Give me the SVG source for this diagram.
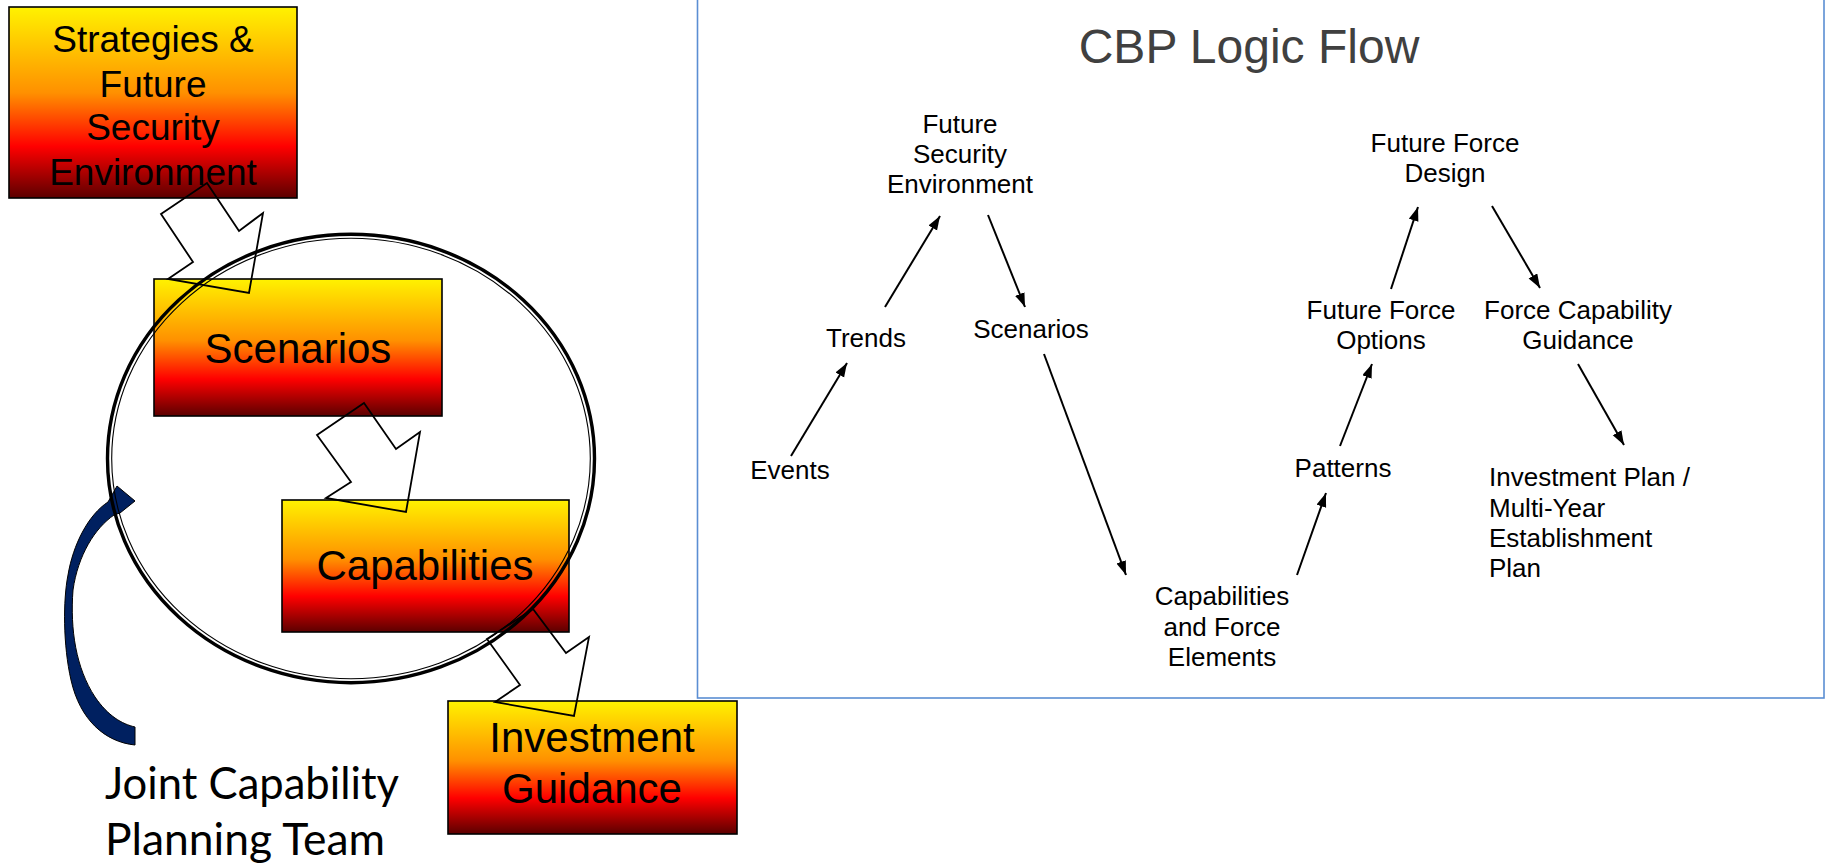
<svg xmlns="http://www.w3.org/2000/svg" width="1829" height="868" viewBox="0 0 1829 868">
<defs>
<linearGradient id="fire" x1="0" y1="0" x2="0" y2="1">
<stop offset="0" stop-color="#FFF200"/>
<stop offset="0.45" stop-color="#FF9000"/>
<stop offset="0.73" stop-color="#FF0000"/>
<stop offset="1" stop-color="#5C0000"/>
</linearGradient>
<marker id="ah" markerUnits="userSpaceOnUse" markerWidth="15" markerHeight="11" refX="14" refY="5" orient="auto">
<path d="M0,0 L14,5 L0,10 Z" fill="#000"/>
</marker>
<style>
.box{fill:url(#fire);stroke:#000;stroke-width:1.6}
.bt{font-family:"Liberation Sans",Arial,sans-serif;font-size:42px;fill:#000;text-anchor:middle}
.zz{fill:none;stroke:#000;stroke-width:1.8;stroke-linejoin:miter}
.lbl{font-family:"Liberation Sans",Arial,sans-serif;font-size:26px;fill:#000;text-anchor:middle}
.lbl-l{font-family:"Liberation Sans",Arial,sans-serif;font-size:26px;fill:#000}
.fl{stroke:#000;stroke-width:2;fill:none;marker-end:url(#ah)}
</style>
</defs>
<rect width="1829" height="868" fill="#fff"/>

<!-- Right panel -->
<rect id="panel" x="697.5" y="-3" width="1126.5" height="701" fill="none" stroke="#5B8ED3" stroke-width="1.6"/>
<text id="title" x="1249" y="63" font-family="Liberation Sans, Arial, sans-serif" font-size="48" fill="#404040" text-anchor="middle">CBP Logic Flow</text>

<!-- Left nodes -->
<g id="node-strategies">
<rect class="box" x="9" y="7" width="288" height="191"/>
<text class="bt" style="font-size:37px" x="153" y="52">Strategies &amp;</text>
<text class="bt" style="font-size:37px" x="153" y="97">Future</text>
<text class="bt" style="font-size:37px" x="153" y="140">Security</text>
<text class="bt" style="font-size:37px" x="153" y="185">Environment</text>
</g>
<g id="node-scenarios">
<rect class="box" x="154" y="279" width="288" height="137"/>
<text class="bt" x="298" y="363">Scenarios</text>
</g>
<g id="node-capabilities">
<rect class="box" x="282" y="500" width="287" height="132"/>
<text class="bt" x="425" y="580">Capabilities</text>
</g>
<g id="node-investment">
<rect class="box" x="448" y="701" width="289" height="133"/>
<text class="bt" x="592" y="752">Investment</text>
<text class="bt" x="592" y="803">Guidance</text>
</g>

<!-- Joint Capability Planning Team -->
<g id="node-jcpt">
<path d="M135,745 C105,742 80,720 71,680 C63,645 63,600 68,575 C73,545 88,515 108,502 L117,486 L135,501 L120,513 L114,515 C95,528 78,555 73,590 C70,630 76,668 95,697 C108,716 122,724 135,727 Z" fill="#002060" stroke="#000" stroke-width="1"/>
<text x="105" y="799" font-family="Lato, 'Open Sans', sans-serif" font-size="44" fill="#000" textLength="294" lengthAdjust="spacingAndGlyphs">Joint Capability</text>
<text x="105" y="855" font-family="Lato, 'Open Sans', sans-serif" font-size="44" fill="#000" textLength="280" lengthAdjust="spacingAndGlyphs">Planning Team</text>
</g>

<!-- Cycle ellipse -->
<g id="cycle">
<ellipse cx="351" cy="458.5" rx="243.5" ry="224.2" fill="none" stroke="#000" stroke-width="3.4"/>
<ellipse cx="351" cy="458.5" rx="239.3" ry="220.2" fill="none" stroke="#000" stroke-width="1.1"/>
</g>

<!-- Left connectors -->
<g id="left-connectors">
<polygon class="zz" points="207,183 161,214 193,262 168,279 249,293 263,213 239,231"/>
<polygon class="zz" points="364,403 317,435 351,482 326,498 406,512 420,432 396,449"/>
<polygon class="zz" points="533,609 487,639 520,685 495,702 574,716 589,637 566,653"/>
</g>

<!-- Right nodes -->
<g id="n-fse"><text class="lbl" x="960" y="133">Future</text><text class="lbl" x="960" y="163">Security</text><text class="lbl" x="960" y="193">Environment</text></g>
<g id="n-trends"><text class="lbl" x="866" y="347">Trends</text></g>
<g id="n-scenarios"><text class="lbl" x="1031" y="338">Scenarios</text></g>
<g id="n-events"><text class="lbl" x="790" y="479">Events</text></g>
<g id="n-cfe"><text class="lbl" x="1222" y="605">Capabilities</text><text class="lbl" x="1222" y="636">and Force</text><text class="lbl" x="1222" y="666">Elements</text></g>
<g id="n-patterns"><text class="lbl" x="1343" y="477">Patterns</text></g>
<g id="n-ffo"><text class="lbl" x="1381" y="319">Future Force</text><text class="lbl" x="1381" y="349">Options</text></g>
<g id="n-ffd"><text class="lbl" x="1445" y="152">Future Force</text><text class="lbl" x="1445" y="182">Design</text></g>
<g id="n-fcg"><text class="lbl" x="1578" y="319">Force Capability</text><text class="lbl" x="1578" y="349">Guidance</text></g>
<g id="n-ip"><text class="lbl-l" x="1489" y="486">Investment Plan /</text><text class="lbl-l" x="1489" y="517">Multi-Year</text><text class="lbl-l" x="1489" y="547">Establishment</text><text class="lbl-l" x="1489" y="577">Plan</text></g>

<!-- Right connectors -->
<g id="flow-connectors">
<line class="fl" x1="791" y1="456" x2="847" y2="363"/>
<line class="fl" x1="885" y1="307" x2="940" y2="216"/>
<line class="fl" x1="988" y1="215" x2="1025" y2="307"/>
<line class="fl" x1="1044" y1="354" x2="1126" y2="575"/>
<line class="fl" x1="1297" y1="575" x2="1326" y2="493"/>
<line class="fl" x1="1340" y1="446" x2="1372" y2="364"/>
<line class="fl" x1="1391" y1="289" x2="1418" y2="207"/>
<line class="fl" x1="1492" y1="206" x2="1540" y2="288"/>
<line class="fl" x1="1578" y1="364" x2="1624" y2="445"/>
</g>
</svg>
